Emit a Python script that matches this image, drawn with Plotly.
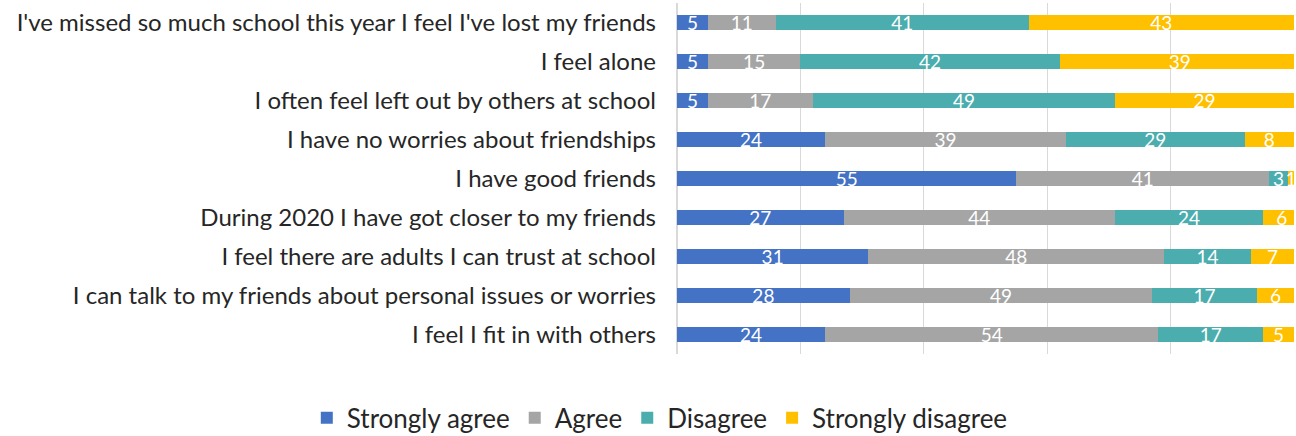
import plotly.graph_objects as go

categories = [
    "I've missed so much school this year I feel I've lost my friends",
    "I feel alone",
    "I often feel left out by others at school",
    "I have no worries about friendships",
    "I have good friends",
    "During 2020 I have got closer to my friends",
    "I feel there are adults I can trust at school",
    "I can talk to my friends about personal issues or worries",
    "I feel I fit in with others",
]
series_names = ["Strongly agree", "Agree", "Disagree", "Strongly disagree"]
strongly_agree = [5, 5, 5, 24, 55, 27, 31, 28, 24]
agree = [11, 15, 17, 39, 41, 44, 48, 49, 54]
disagree = [41, 42, 49, 29, 3, 24, 14, 17, 17]
strongly_disagree = [43, 39, 29, 8, 1, 6, 7, 6, 5]

colors = ["#4472C4", "#A5A5A5", "#4BADAE", "#FFC000"]
values = [strongly_agree, agree, disagree, strongly_disagree]

FONT = "Lato"
fig = go.Figure()
for name, vals, col in zip(series_names, values, colors):
    fig.add_trace(go.Bar(
        y=categories, x=vals, name=name, orientation="h",
        marker=dict(color=col, line=dict(width=0)),
        text=[str(v) for v in vals], textposition="inside", textangle=0,
        insidetextanchor="middle", constraintext="none",
        textfont=dict(color="white", size=19, family=FONT),
    ))

fig.update_layout(
    barmode="stack", bargap=0.6,
    width=1296, height=436,
    margin=dict(l=677, r=2, t=3, b=82, autoexpand=False),
    plot_bgcolor="white", paper_bgcolor="white",
    font=dict(family=FONT, size=24, color="#262626"),
    showlegend=True,
    legend=dict(orientation="h", x=-0.6, xanchor="left", y=-0.182, yanchor="middle",
                font=dict(size=26, color="#262626"), itemwidth=30, traceorder="normal"),
)
fig.update_xaxes(range=[0, 100], dtick=20, showgrid=True, gridcolor="#D9D9D9", gridwidth=1,
                 showticklabels=False, zeroline=True, zerolinecolor="#D9D9D9", showline=False)
fig.update_yaxes(autorange="reversed", showgrid=False, ticks="", ticklabelstandoff=20,
                 showline=False)
fig.write_html("out.html")
